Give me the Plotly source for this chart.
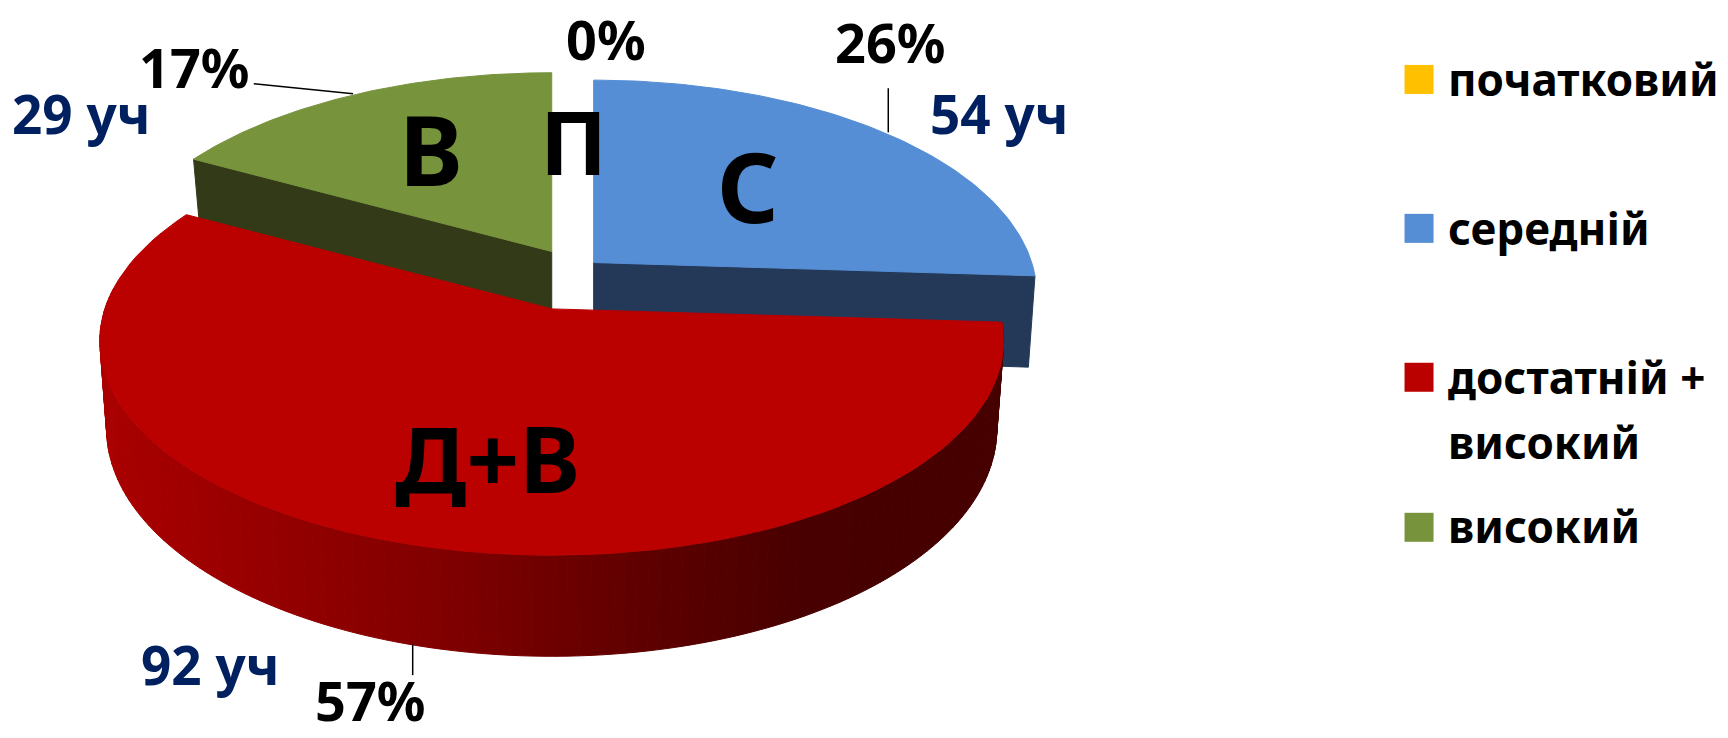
import math
import plotly.graph_objects as go

# ---- data ----
categories = ["початковий", "середній", "достатній +<br>високий", "високий"]
shares = [0, 26, 57, 17]
percent_labels = ["0%", "26%", "57%", "17%"]
pupil_labels = ["29 уч", "54 уч", "92 уч"]
slice_letters = ["П", "С", "Д+В", "В"]
top_colors = ["#ffc000", "#558ed5", "#bb0000", "#77933c"]
side_colors = [None, "#243858", None, "#323a18"]

# ---- style / geometry of the tilted pie ----
W, H = 1566, 669            # data units of the page
A, B, K = 397, 190, 0.149   # radii and perspective
apex = [(520, 240), (538, 238), (500, 280), (500, 228)]
scale_x = [1.0, 1.0, 1.02, 1.0]
scale_y = [1.0, 1.0, 1.0, 0.98]
thick = [60, 82, 78, 58]
FONT = "Noto Sans"


def project(i, theta):
    u, v = math.sin(theta), -math.cos(theta)
    s = 1 / (1 - K * v)
    ax, ay = apex[i]
    return ax + scale_x[i] * A * u * s, ay + scale_y[i] * B * v * s, s


def drop(i, x, y, s):
    return apex[i][0] + (x - apex[i][0]) * 0.985, y + thick[i] * s


fig = go.Figure()


def poly(xs, ys, color):
    fig.add_trace(go.Scatter(x=xs, y=ys, mode="lines", fill="toself", fillcolor=color,
                             line=dict(color=color, width=1), hoverinfo="skip", showlegend=False))


def shade(t):
    stops = [(0.0, (170, 0, 0)), (0.38, (128, 0, 0)), (0.62, (92, 0, 0)), (0.78, (72, 0, 0)), (1.0, (70, 0, 0))]
    t = min(max(t, 0.0), 1.0)
    for (a, ca), (b, cb) in zip(stops, stops[1:]):
        if t <= b:
            f = (t - a) / (b - a)
            return "rgb(%d,%d,%d)" % tuple(round(p + (q - p) * f) for p, q in zip(ca, cb))
    return "rgb(70,0,0)"


total = sum(shares)
edges = [0]
for val in shares:
    edges.append(edges[-1] + val / total * 2 * math.pi)


def arc(i, n=90):
    a0, a1 = edges[i], edges[i + 1]
    return [a0 + (a1 - a0) * j / n for j in range(n + 1)]


def top_face(i):
    pts = [project(i, t) for t in arc(i)]
    poly([apex[i][0]] + [p[0] for p in pts] + [apex[i][0]],
         [apex[i][1]] + [p[1] for p in pts] + [apex[i][1]], top_colors[i])


def cut_face(i, theta):
    x, y, s = project(i, theta)
    xb, yb = drop(i, x, y, s)
    ax, ay = apex[i]
    poly([ax, x, xb, ax, ax], [ay, y, yb, ay + thick[i], ay], side_colors[i])


# green slice, then blue slice, then the red slice in front
cut_face(3, edges[3])
top_face(3)
cut_face(1, edges[2])
top_face(1)

# red wall: narrow strips along the rim, shaded by horizontal position
thetas = [t for t in arc(2, 160) if math.cos(t) < 0.12]
for t0, t1 in zip(thetas, thetas[1:]):
    x0, y0, s0 = project(2, t0)
    x1, y1, s1 = project(2, t1)
    bx0, by0 = drop(2, x0, y0, s0)
    bx1, by1 = drop(2, x1, y1, s1)
    poly([x0, x1, bx1, bx0, x0], [y0, y1, by1, by0, y0], shade(((x0 + x1) / 2 - 90) / 820))
top_face(2)

# legend swatches
legend_y = [72, 207, 342, 478]
for c, col, ly in zip(categories, top_colors, legend_y):
    fig.add_trace(go.Scatter(x=[1286], y=[ly], mode="markers", hoverinfo="skip", showlegend=False,
                             marker=dict(symbol="square", size=29, color=col)))


def note(x, y, text, size, color="#000000", anchor="center"):
    fig.add_annotation(x=x, y=y, text=text, showarrow=False, xanchor=anchor, yanchor="middle",
                       font=dict(family=FONT, size=size, color=color, weight="bold"))


for pos, t in zip([(549, 35), (807, 38), (335, 635), (176, 61)], percent_labels):
    note(pos[0], pos[1], t, 54)
for pos, t in zip([(73, 103), (905, 103), (190, 602)], pupil_labels):
    note(pos[0], pos[1], t, 53, "#002060")
for pos, t, sz in zip([(520, 128), (678, 168), (442, 415), (391, 135)], slice_letters, [88, 96, 92, 96]):
    note(pos[0], pos[1], t, sz)

note(1310, 72, categories[0], 44, anchor="left")
note(1310, 207, categories[1], 44, anchor="left")
note(1310, 342, "достатній +", 44, anchor="left")
note(1310, 401, "високий", 44, anchor="left")
note(1310, 477, categories[3], 44, anchor="left")

for x0, y0, x1, y1 in [(230, 76, 320, 85), (805, 80, 805, 120), (374, 584, 374, 612)]:
    fig.add_shape(type="line", x0=x0, y0=y0, x1=x1, y1=y1, line=dict(color="#000000", width=1.5))

fig.update_layout(
    width=1728, height=738, margin=dict(l=0, r=0, t=0, b=0),
    paper_bgcolor="#ffffff", plot_bgcolor="#ffffff", showlegend=False,
    xaxis=dict(range=[0, W], visible=False, fixedrange=True),
    yaxis=dict(range=[H, 0], visible=False, fixedrange=True),
)
fig.write_html("out.html", config={"displayModeBar": False},
               default_width="1728px", default_height="738px",
               post_script="document.body.style.margin='0';")
